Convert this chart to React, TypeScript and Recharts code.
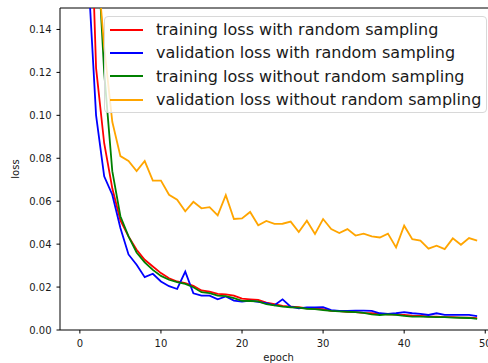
import { LineChart, Line, XAxis, YAxis, ReferenceLine, Label } from "recharts";

const epochs = [
  0, 1, 2, 3, 4, 5, 6, 7, 8, 9, 10, 11, 12, 13, 14, 15, 16, 17, 18, 19, 20, 21, 22, 23, 24,
  25, 26, 27, 28, 29, 30, 31, 32, 33, 34, 35, 36, 37, 38, 39, 40, 41, 42, 43, 44, 45, 46, 47, 48, 49,
];

const trainLossRandom = [
  0.42, 0.239, 0.122, 0.087, 0.066, 0.051, 0.0436, 0.0374, 0.0327, 0.0296, 0.0265, 0.0241, 0.0226,
  0.0218, 0.0206, 0.0184, 0.0179, 0.0168, 0.0166, 0.016, 0.0146, 0.0143, 0.014, 0.0128, 0.012,
  0.0112, 0.0109, 0.0106, 0.0101, 0.0099, 0.0097, 0.0089, 0.0088, 0.0085, 0.0083, 0.008, 0.0078,
  0.0075, 0.0073, 0.0072, 0.007, 0.0067, 0.0066, 0.0063, 0.0062, 0.006, 0.006, 0.0058, 0.0057, 0.0055,
];

const valLossRandom = [
  0.4, 0.168, 0.1, 0.0716, 0.063, 0.0475, 0.0352, 0.0304, 0.0246, 0.0262, 0.0226, 0.0204, 0.0191,
  0.0272, 0.0171, 0.016, 0.016, 0.0143, 0.0156, 0.0137, 0.0132, 0.0137, 0.0131, 0.0125, 0.0115,
  0.0143, 0.0109, 0.0101, 0.0105, 0.0105, 0.0106, 0.0093, 0.0089, 0.0089, 0.009, 0.009, 0.0089,
  0.0078, 0.0075, 0.0078, 0.0083, 0.0078, 0.0075, 0.007, 0.0078, 0.007, 0.007, 0.007, 0.007, 0.0065,
];

const trainLossNoRandom = [
  0.45, 0.3, 0.19, 0.12, 0.074, 0.053, 0.0436, 0.0361, 0.0315, 0.028, 0.0252, 0.0234, 0.0223,
  0.0215, 0.0199, 0.0176, 0.0172, 0.016, 0.0158, 0.0148, 0.0136, 0.0135, 0.0133, 0.012, 0.0115,
  0.0109, 0.0106, 0.0104, 0.0099, 0.0097, 0.0093, 0.0089, 0.0087, 0.0085, 0.0083, 0.008, 0.0073,
  0.007, 0.0073, 0.007, 0.0066, 0.0062, 0.0062, 0.0061, 0.006, 0.006, 0.0058, 0.0057, 0.0056, 0.0052,
];

const valLossNoRandom = [
  0.4, 0.28, 0.178, 0.132, 0.097, 0.081, 0.0787, 0.074, 0.0787, 0.0696, 0.0696, 0.063, 0.0607,
  0.0553, 0.0597, 0.0567, 0.0572, 0.0534, 0.0628, 0.0517, 0.052, 0.055, 0.0488, 0.0508, 0.0494,
  0.0495, 0.0505, 0.0456, 0.0509, 0.0447, 0.0517, 0.047, 0.0452, 0.047, 0.044, 0.0449, 0.0436,
  0.0431, 0.0449, 0.0385, 0.0486, 0.0423, 0.0416, 0.0379, 0.0393, 0.0377, 0.0427, 0.0397, 0.0428, 0.0416,
];

const xTicks = [0, 10, 20, 30, 40, 50];
const yTicks = [0, 0.02, 0.04, 0.06, 0.08, 0.1, 0.12, 0.14];

const series = [
  { key: "trainRand", name: "training loss with random sampling", color: "#ff0000" },
  { key: "valRand", name: "validation loss with random sampling", color: "#0000ff" },
  { key: "trainNoRand", name: "training loss without random sampling", color: "#008000" },
  { key: "valNoRand", name: "validation loss without random sampling", color: "#ffa500" },
];

const data = epochs.map((epoch, i) => ({
  epoch,
  trainRand: trainLossRandom[i],
  valRand: valLossRandom[i],
  trainNoRand: trainLossNoRandom[i],
  valNoRand: valLossNoRandom[i],
}));

const font = "'DejaVu Sans', sans-serif";
const tickStyle = { fontSize: 10, fill: "#1a1a1a", fontFamily: font };

function YLabel({ viewBox }: any) {
  const cx = viewBox.x + 15;
  const cy = viewBox.y + viewBox.height / 2;
  return (
    <text
      x={cx}
      y={cy}
      transform={`rotate(-90 ${cx} ${cy})`}
      textAnchor="middle"
      dominantBaseline="central"
      fontSize={10}
      fontFamily={font}
      fill="#1a1a1a"
    >
      loss
    </text>
  );
}

function LegendBox() {
  return (
    <div
      style={{
        position: "absolute",
        left: 104,
        top: 16,
        width: 383,
        height: 97,
        boxSizing: "border-box",
        border: "1px solid #d8d8d8",
        borderRadius: 4,
        background: "rgba(255,255,255,0.8)",
        paddingTop: 1,
        fontFamily: font,
        fontSize: 16,
        color: "#1a1a1a",
      }}
    >
      {series.map((s) => (
        <div key={s.key} style={{ height: 23.3, display: "flex", alignItems: "center", whiteSpace: "nowrap" }}>
          <span
            style={{
              display: "inline-block",
              width: 33,
              height: 2,
              background: s.color,
              marginLeft: 5,
              marginRight: 13,
            }}
          />
          <span>{s.name}</span>
        </div>
      ))}
    </div>
  );
}

export default function App() {
  return (
    <div
      style={{
        position: "absolute",
        left: 0,
        top: 0,
        width: 488,
        height: 363,
        overflow: "hidden",
        background: "#fff",
      }}
    >
      <LineChart
        width={500}
        height={363}
        data={data}
        margin={{ top: 8, right: 3, left: 0, bottom: 0 }}
        style={{ fontFamily: font }}
      >
        <XAxis
          dataKey="epoch"
          type="number"
          domain={[-2.45, 51.45]}
          allowDataOverflow
          ticks={xTicks}
          interval={0}
          height={33}
          tick={tickStyle}
          tickSize={3.5}
          tickMargin={6}
          axisLine={{ stroke: "#000", strokeWidth: 1 }}
          tickLine={{ stroke: "#000" }}
        >
          <Label value="epoch" position="insideBottom" offset={2} fontSize={10} fill="#1a1a1a" fontFamily={font} />
        </XAxis>
        <YAxis
          type="number"
          domain={[0, 0.15]}
          allowDataOverflow
          ticks={yTicks}
          interval={0}
          width={60}
          tick={tickStyle}
          tickSize={3.5}
          tickMargin={5}
          tickFormatter={(v: number) => v.toFixed(2)}
          axisLine={{ stroke: "#000", strokeWidth: 1 }}
          tickLine={{ stroke: "#000" }}
        >
          <Label content={YLabel} />
        </YAxis>
        <ReferenceLine y={0.15} stroke="#000" strokeWidth={1} ifOverflow="extendDomain" />
        {series.map((s) => (
          <Line
            key={s.key}
            type="linear"
            dataKey={s.key}
            name={s.name}
            stroke={s.color}
            strokeWidth={1.8}
            dot={false}
            activeDot={false}
            isAnimationActive={false}
          />
        ))}
      </LineChart>
      <LegendBox />
    </div>
  );
}
